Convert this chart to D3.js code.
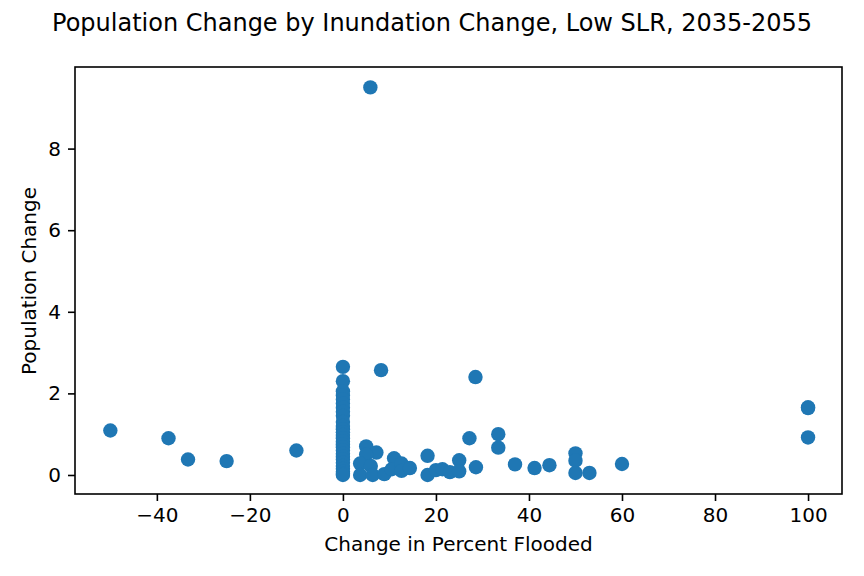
<!DOCTYPE html>
<html><head><meta charset="utf-8">
<script src="https://cdn.jsdelivr.net/npm/d3@7"></script>
<style>html,body{margin:0;padding:0;background:#fff}svg{display:block}text{font-family:"DejaVu Sans",sans-serif;fill:#000}</style>
</head><body><div id="c"></div>
<script>
const titleText = "Population Change by Inundation Change, Low SLR, 2035-2055";
const xLabel = "Change in Percent Flooded";
const yLabel = "Population Change";
const xTicks = [-40,-20,0,20,40,60,80,100];
const yTicks = [0,2,4,6,8];
const xDomain = [-57.6,107.3];
const yDomain = [-0.466,10.0];
// points on the x = 0 column
const zeroColumnY = [2.65,2.3,2.05,1.95,1.85,1.75,1.65,1.55,1.45,1.3,1.2,1.12,1.05,0.98,0.9,0.82,0.75,0.68,0.6,0.52,0.45,0.38,0.3,0.22,0.15,0.08,0.03,0];
const otherX = [5.9,8.2,28.5,27.2,33.4,33.4,5,7.2,5,3.7,6,3.7,6.4,8.9,11,10.5,12.6,12.6,14.4,18.2,18.2,20,21.4,23,25,25,28.6,37,41.2,44.4,50,50,50,53,60,-50,-37.5,-33.3,-25,-10,100,100,100];
const otherY = [9.5,2.57,2.4,0.9,1.0,0.67,0.7,0.55,0.5,0.28,0.22,0.0,0.0,0.02,0.41,0.14,0.28,0.1,0.17,0.47,0.0,0.12,0.14,0.07,0.36,0.09,0.19,0.26,0.17,0.24,0.53,0.35,0.05,0.05,0.27,1.09,0.9,0.38,0.34,0.6,1.66,1.64,0.92];

const W=864,H=576,m={l:75,r:842,t:67,b:494};
const svg=d3.select("#c").append("svg").attr("width",W).attr("height",H);
const x=d3.scaleLinear().domain(xDomain).range([m.l,m.r]);
const y=d3.scaleLinear().domain(yDomain).range([m.b,m.t]);
const pts=[...zeroColumnY.map(v=>[0,v]),...otherX.map((v,i)=>[v,otherY[i]])];
svg.append("g").selectAll("circle").data(pts).join("circle")
  .attr("cx",d=>x(d[0])).attr("cy",d=>y(d[1])).attr("r",7.2).attr("fill","#1f77b4");
const fs=20;
const ax=svg.append("g").attr("transform",`translate(0,${m.b})`).call(d3.axisBottom(x).tickValues(xTicks).tickSize(7).tickPadding(7));
const ay=svg.append("g").attr("transform",`translate(${m.l},0)`).call(d3.axisLeft(y).tickValues(yTicks).tickSize(7).tickPadding(7));
[ax,ay].forEach(a=>{a.select(".domain").remove();a.selectAll("line").attr("stroke","#000").attr("stroke-width",1.6);a.selectAll("text").style("font-size",fs+"px").style("font-family",'"DejaVu Sans"');});
svg.append("rect").attr("x",m.l).attr("y",m.t).attr("width",m.r-m.l).attr("height",m.b-m.t).attr("fill","none").attr("stroke","#000").attr("stroke-width",1.6);
svg.append("text").attr("x",432).attr("y",31).attr("text-anchor","middle").style("font-size","24px").text(titleText);
svg.append("text").attr("x",458.5).attr("y",550.5).attr("text-anchor","middle").style("font-size",fs+"px").text(xLabel);
svg.append("text").attr("transform","translate(36,281) rotate(-90)").attr("text-anchor","middle").style("font-size",fs+"px").text(yLabel);
</script></body></html>
